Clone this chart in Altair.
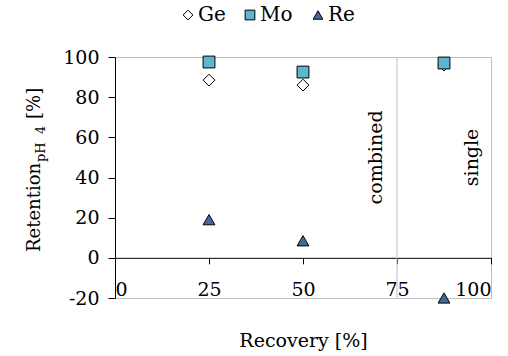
import altair as alt
import pandas as pd

FONT = "DejaVu Serif"
FS = 19

series_names = ["Ge", "Mo", "Re"]
series_shapes = ["diamond", "square", "triangle-up"]
series_fills = ["white", "#5cb7ce", "#45699b"]
recovery = [25, 50, 87.5]
ge_retention = [88.5, 86, 96]
mo_retention = [97.5, 92.5, 97]
re_retention = [19, 8.5, -20]

x_ticks = [0, 25, 50, 75, 100]
y_ticks = [-20, 0, 20, 40, 60, 80, 100]

divider_x = [75]
notes = ["combined", "single"]
note_x = [71, 96.5]
note_y = [50, 50]

rows = []
for name, vals in zip(series_names, [ge_retention, mo_retention, re_retention]):
    for xv, yv in zip(recovery, vals):
        rows.append({"series": name, "recovery": xv, "retention": yv})
df = pd.DataFrame(rows)

xscale = alt.Scale(domain=[0, 100], nice=False, zero=False)
yscale = alt.Scale(domain=[-20, 100], nice=False, zero=False)

W, H = 376, 241
AX_OFF = H * 20 / 120

points = alt.Chart(df).mark_point(
    filled=True, stroke="black", strokeWidth=1, size=140, opacity=1
).encode(
    x=alt.X("recovery:Q", scale=xscale,
            axis=alt.Axis(values=x_ticks, title="Recovery [%]", grid=False,
                          domainColor="black", tickColor="black", tickSize=6,
                          labelFont=FONT, labelFontSize=FS, labelColor="black",
                          labelPadding=17, offset=-AX_OFF,
                          titleFont=FONT, titleFontSize=FS, titleFontWeight="normal",
                          titleColor="black", titleBaseline="alphabetic",
                          titleY=89)),
    y=alt.Y("retention:Q", scale=yscale,
            axis=alt.Axis(values=y_ticks, title=None, grid=False,
                          domainColor="black", tickColor="black", tickSize=7,
                          labelFont=FONT, labelFontSize=FS, labelColor="black",
                          labelPadding=9,
                          labelExpr="datum.value < 0 ? '-' + abs(datum.value) : datum.label")),
    shape=alt.Shape("series:N",
                    scale=alt.Scale(domain=series_names, range=series_shapes),
                    legend=None),
    fill=alt.Fill("series:N",
                  scale=alt.Scale(domain=series_names, range=series_fills),
                  legend=None),
)

divider = alt.Chart(pd.DataFrame({"x": divider_x})).mark_rule(
    color="#bfbfbf", strokeWidth=1
).encode(x=alt.X("x:Q", scale=xscale))

notes_df = pd.DataFrame({"label": notes, "x": note_x, "y": note_y})
note_text = alt.Chart(notes_df).mark_text(
    angle=270, font=FONT, fontSize=FS, color="black", align="center",
    baseline="alphabetic"
).encode(
    x=alt.X("x:Q", scale=xscale),
    y=alt.Y("y:Q", scale=yscale),
    text="label:N",
)

leg_df = pd.DataFrame({
    "series": series_names,
    "sx": [73, 135, 203],
})
leg_sym = alt.Chart(leg_df).mark_point(
    filled=True, stroke="black", strokeWidth=1, size=95, opacity=1
).encode(
    x=alt.X("sx:Q", scale=None),
    y=alt.value(-42),
    shape=alt.Shape("series:N",
                    scale=alt.Scale(domain=series_names, range=series_shapes),
                    legend=None),
    fill=alt.Fill("series:N",
                  scale=alt.Scale(domain=series_names, range=series_fills),
                  legend=None),
)
leg_txt = alt.Chart(leg_df).transform_calculate(tx="datum.sx + 10").mark_text(
    font=FONT, fontSize=20, color="black", align="left", baseline="middle"
).encode(
    x=alt.X("tx:Q", scale=None),
    y=alt.value(-42),
    text="series:N",
)

def piece(t, x, y, size):
    return alt.Chart(pd.DataFrame({"t": [t]})).mark_text(
        angle=270, font=FONT, fontSize=size, color="black", align="left",
        baseline="alphabetic"
    ).encode(x=alt.value(x), y=alt.value(y), text="t:N")

title_main = piece("Retention", -75, 195, 18)
title_sub1 = piece("pH", -70, 105, 13)
title_sub2 = piece("4", -70, 77, 13)
title_end = piece("[%]", -75, 62, 18)

chart = alt.layer(
    divider, points, note_text, leg_sym, leg_txt,
    title_main, title_sub1, title_sub2, title_end
).properties(
    width=W, height=H,
    padding={"left": 115, "top": 57, "right": 17, "bottom": 58},
    autosize=alt.AutoSizeParams(type="none"),
    background="white",
).configure_view(stroke="#bfbfbf", strokeWidth=1)

chart.save("out.html", embed_options={"renderer": "svg", "actions": False})
